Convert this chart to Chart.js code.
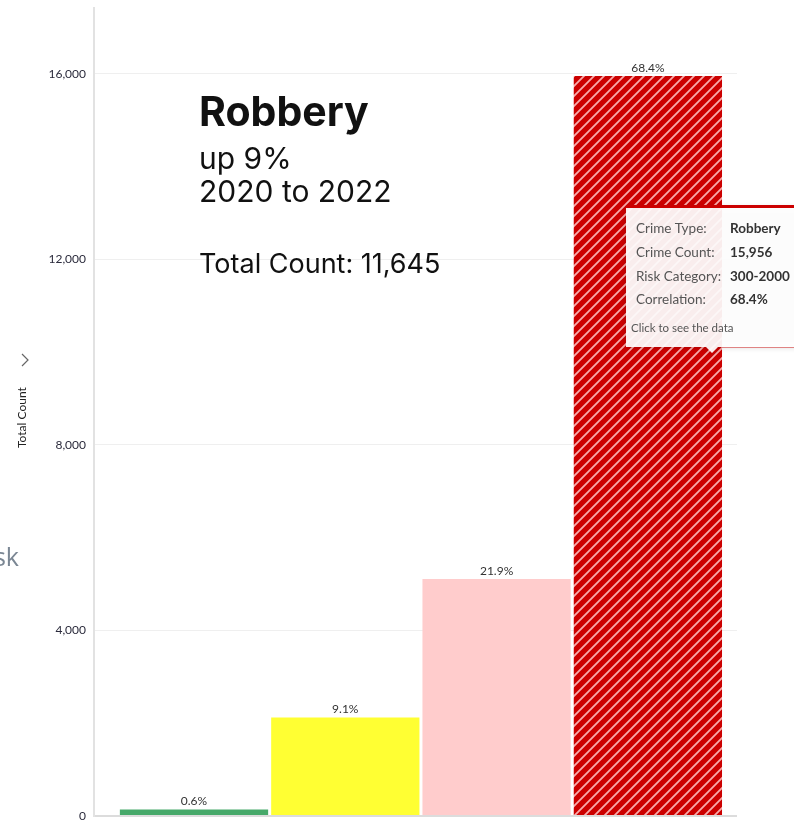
<!DOCTYPE html>
<html>
<head>
<meta charset="utf-8">
<script src="https://cdn.jsdelivr.net/npm/chart.js@4"></script>
<style>
  html, body { margin: 0; padding: 0; background: #fff; overflow: hidden; }
  canvas { display: block; }
</style>
</head>
<body>
<canvas id="chart1" width="794" height="821"></canvas>
<script>
const riskCategories = ['0-10', '10-50', '50-300', '300-2000'];
const crimeCounts = [140, 2123, 5109, 15956];
const correlation = ['0.6%', '9.1%', '21.9%', '68.4%'];
const yTickValues = [0, 4000, 8000, 12000, 16000];
const crimeType = 'Robbery';
const headline = ['up 9%', '2020 to 2022'];
const totalCount = 11645;
const hovered = 3;

// red bar gets a diagonal hatch
function hatch() {
  const c = document.createElement('canvas');
  c.width = 10; c.height = 10;
  const g = c.getContext('2d');
  g.fillStyle = '#cc0000';
  g.fillRect(0, 0, 10, 10);
  g.strokeStyle = 'rgba(255,200,200,0.85)';
  g.lineWidth = 1.8;
  g.beginPath();
  g.moveTo(-2, 12); g.lineTo(12, -2);
  g.moveTo(-2, 2); g.lineTo(2, -2);
  g.moveTo(8, 12); g.lineTo(12, 8);
  g.stroke();
  return g.createPattern(c, 'repeat');
}

const barColors = ['#47a96a', '#ffff33', '#ffcccc', hatch()];

const barLabels = {
  id: 'barLabels',
  afterDatasetsDraw(chart) {
    const ctx = chart.ctx;
    ctx.save();
    ctx.font = '12px Lato';
    ctx.fillStyle = '#333';
    ctx.textAlign = 'center';
    ctx.textBaseline = 'bottom';
    chart.getDatasetMeta(0).data.forEach((bar, i) => {
      ctx.fillText(correlation[i], bar.x, bar.y - 2);
    });
    ctx.restore();
  }
};

const overlay = {
  id: 'overlay',
  afterDraw(chart) {
    const ctx = chart.ctx;
    ctx.save();
    // headline text
    ctx.fillStyle = '#111';
    ctx.textBaseline = 'alphabetic';
    ctx.textAlign = 'left';
    ctx.font = 'bold 41px Inter';
    ctx.fillText(crimeType, 199, 126);
    ctx.font = '30px Inter';
    ctx.fillText(headline[0], 199, 169);
    ctx.fillText(headline[1], 199, 202);
    ctx.font = '27px Inter';
    ctx.fillText('Total Count: ' + totalCount.toLocaleString('en-US'), 199, 273);

    // cut off side label
    ctx.fillStyle = '#7b8794';
    ctx.font = '25px "Open Sans"';
    ctx.textAlign = 'right';
    ctx.fillText('Risk', 19, 566);

    // y axis title
    ctx.save();
    ctx.translate(26, 448);
    ctx.rotate(-Math.PI / 2);
    ctx.fillStyle = '#222';
    ctx.font = '12px Lato';
    ctx.textAlign = 'left';
    ctx.fillText('Total Count', 0, 0);
    ctx.strokeStyle = '#666';
    ctx.lineWidth = 1.2;
    ctx.beginPath();
    ctx.moveTo(82, -4); ctx.lineTo(88, 2); ctx.lineTo(94, -4);
    ctx.stroke();
    ctx.restore();

    // tooltip
    const tx = 626, ty = 208, tw = 190, th = 139, ax = 712;
    ctx.save();
    ctx.shadowColor = 'rgba(0,0,0,0.18)';
    ctx.shadowBlur = 6;
    ctx.fillStyle = 'rgba(255,255,255,0.93)';
    ctx.beginPath();
    ctx.moveTo(tx, ty);
    ctx.lineTo(tx + tw, ty);
    ctx.lineTo(tx + tw, ty + th);
    ctx.lineTo(ax + 6, ty + th);
    ctx.lineTo(ax, ty + th + 6);
    ctx.lineTo(ax - 6, ty + th);
    ctx.lineTo(tx, ty + th);
    ctx.closePath();
    ctx.fill();
    ctx.restore();
    ctx.strokeStyle = 'rgba(204,0,0,0.45)';
    ctx.lineWidth = 1;
    ctx.beginPath();
    ctx.moveTo(722, ty + th + 0.5); ctx.lineTo(794, ty + th + 0.5);
    ctx.stroke();
    ctx.fillStyle = '#cc0000';
    ctx.fillRect(tx, ty - 3, 794 - tx, 3);

    const rows = [
      ['Crime Type:', crimeType],
      ['Crime Count:', crimeCounts[hovered].toLocaleString('en-US')],
      ['Risk Category:', riskCategories[hovered]],
      ['Correlation:', correlation[hovered]]
    ];
    ctx.textAlign = 'left';
    ctx.textBaseline = 'middle';
    rows.forEach((r, i) => {
      const y = 229 + i * 23.7;
      ctx.font = '13.5px Lato';
      ctx.fillStyle = '#555';
      ctx.fillText(r[0], 636, y);
      ctx.font = 'bold 13.5px Lato';
      ctx.fillStyle = '#333';
      ctx.fillText(r[1], 730, y);
    });
    ctx.font = '11.5px Lato';
    ctx.fillStyle = '#555';
    ctx.fillText('Click to see the data', 631, 328);
    ctx.restore();
  }
};

const config = {
  type: 'bar',
  data: {
    labels: riskCategories,
    datasets: [{
      label: 'Total Count',
      data: crimeCounts.map((v, i) => ({ x: i, y: v })),
      backgroundColor: barColors,
      borderWidth: 0,
      barPercentage: 0.98,
      categoryPercentage: 1
    }]
  },
  options: {
    responsive: false,
    animation: false,
    layout: { padding: { left: 0, right: 57, top: 8, bottom: 5 } },
    plugins: {
      legend: { display: false },
      tooltip: { enabled: false }
    },
    scales: {
      x: {
        type: 'linear',
        display: false,
        offset: false,
        min: -0.661,
        max: 3.589,
        afterBuildTicks: (s) => {
          s.ticks = riskCategories.map((c, i) => ({ value: i }));
        }
      },
      y: {
        min: 0,
        max: 17423,
        afterBuildTicks: (s) => {
          s.ticks = yTickValues.map(v => ({ value: v }));
        },
        afterFit: (s) => {
          s.width = 94;
          s.paddingTop = 0;
          s.paddingBottom = 0;
        },
        border: { color: '#e2e2e2', width: 2 },
        grid: {
          drawTicks: false,
          color: (c) => c.tick && c.tick.value === 0 ? '#dcdcdc' : '#efefef',
          lineWidth: (c) => c.tick && c.tick.value === 0 ? 2 : 1
        },
        ticks: {
          padding: 8,
          color: '#2b2b3c',
          font: { family: 'Lato', size: 12 },
          callback: (v) => v.toLocaleString('en-US')
        }
      }
    }
  },
  plugins: [barLabels, overlay]
};

var chart = new Chart(document.getElementById('chart1').getContext('2d'), config);
</script>
</body>
</html>
